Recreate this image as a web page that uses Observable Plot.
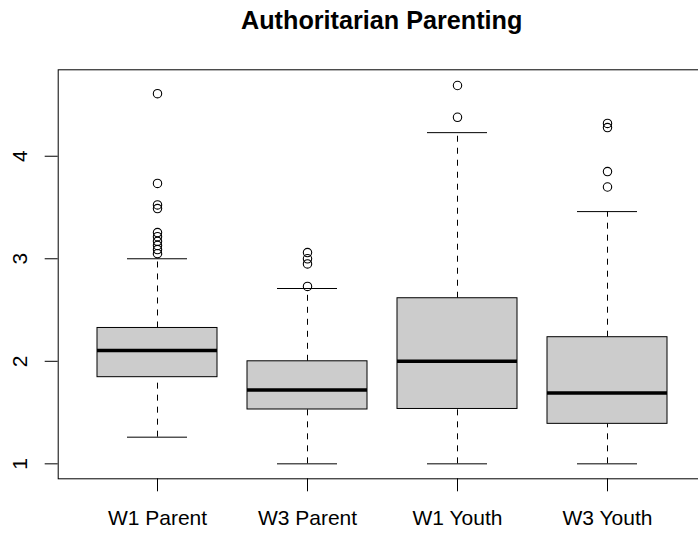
<!DOCTYPE html>
<html>
<head>
<meta charset="utf-8">
<script src="https://cdn.jsdelivr.net/npm/d3@7"></script>
<script src="https://cdn.jsdelivr.net/npm/@observablehq/plot@0.6"></script>
<style>
  html, body { margin: 0; padding: 0; background: white; overflow: hidden; width: 698px; height: 535px; }
  #title { position: absolute; left: 0; top: 0; width: 763.4px; height: 40px; line-height: 40px; text-align: center;
    font-family: "Liberation Sans", Arial, sans-serif; font-weight: bold; font-size: 25.2px; color: #000; white-space: nowrap; }
  #chart { position: absolute; left: 0; top: 40px; }
</style>
</head>
<body>
<div id="title">Authoritarian Parenting</div>
<div id="chart"></div>
<script>
const categories = ["W1 Parent", "W3 Parent", "W1 Youth", "W3 Youth"];
const whiskerLow  = [1.26, 1.00, 1.00, 1.00];
const quartile1   = [1.845, 1.53, 1.535, 1.39];
const medians     = [2.105, 1.72, 2.00, 1.69];
const quartile3   = [2.325, 2.00, 2.615, 2.235];
const whiskerHigh = [3.00, 2.71, 4.23, 3.46];
const outliers = [
  [4.61, 3.735, 3.525, 3.49, 3.255, 3.215, 3.17, 3.13, 3.09, 3.05],
  [3.06, 3.00, 2.95, 2.73],
  [4.69, 4.38],
  [4.32, 4.28, 3.85, 3.70]
];
const yTicks = [1, 2, 3, 4];

const boxes = categories.map((c, i) => ({
  cat: c, lo: whiskerLow[i], q1: quartile1[i], med: medians[i], q3: quartile3[i], hi: whiskerHigh[i]
}));
const points = categories.flatMap((c, i) => outliers[i].map(v => ({cat: c, v})));

const chart = Plot.plot({
  width: 698,
  height: 495,
  marginLeft: 57.7,
  marginRight: -7.7,
  marginTop: 29.3,
  marginBottom: 56.7,
  style: { fontFamily: "Liberation Sans, Arial, sans-serif", background: "white", color: "black" },
  x: { type: "band", domain: categories, paddingInner: 0.2, paddingOuter: 0.26, label: null },
  y: { domain: [0.854, 4.843], label: null },
  marks: [
    Plot.ruleX(boxes, { x: "cat", y1: "q3", y2: "hi", stroke: "#000", strokeDasharray: "6,6" }),
    Plot.ruleX(boxes, { x: "cat", y1: "lo", y2: "q1", stroke: "#000", strokeDasharray: "6,6" }),
    Plot.tickY(boxes, { x: "cat", y: "hi", stroke: "#000", insetLeft: 30, insetRight: 30 }),
    Plot.tickY(boxes, { x: "cat", y: "lo", stroke: "#000", insetLeft: 30, insetRight: 30 }),
    Plot.barY(boxes, { x: "cat", y1: "q1", y2: "q3", fill: "#cccccc", stroke: "#000", strokeWidth: 1 }),
    Plot.tickY(boxes, { x: "cat", y: "med", stroke: "#000", strokeWidth: 3.5 }),
    Plot.dot(points, { x: "cat", y: "v", r: 4.2, stroke: "#000", fill: "none", strokeWidth: 1.1 }),
    Plot.frame({ stroke: "#000", strokeWidth: 1 }),
    Plot.axisY({ ticks: yTicks, tickFormat: d3.format("d"), tickSize: 13, tickPadding: 18, tickRotate: -90, fontSize: 21, label: null }),
    Plot.axisX({ tickSize: 13, tickPadding: 18, fontSize: 21, label: null })
  ]
});
document.getElementById("chart").appendChild(chart);
</script>
</body>
</html>
